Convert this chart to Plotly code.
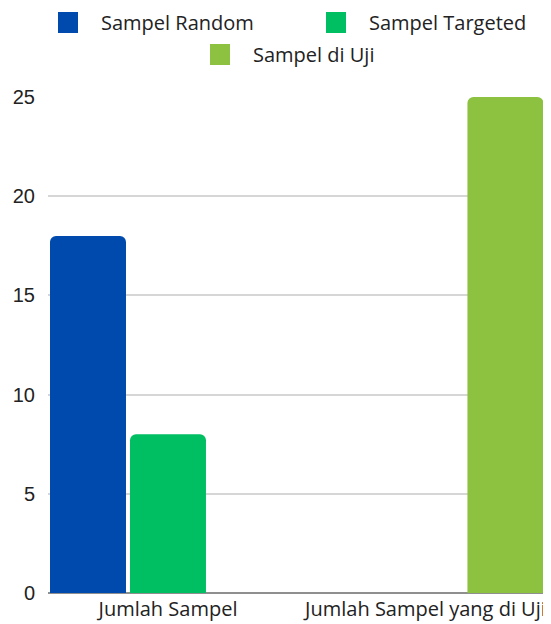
import plotly.graph_objects as go

categories = ["Jumlah Sampel", "Jumlah Sampel yang di Uji"]
series_names = ["Sampel Random", "Sampel Targeted", "Sampel di Uji"]
random_vals = [18, 0]
targeted_vals = [8, 0]
uji_vals = [0, 25]
colors = ["#004AAD", "#00BF63", "#8CC23F"]
y_ticks = [0, 5, 10, 15, 20, 25]

OFF = 8  # page body margin in the browser
W, H = 551 - OFF, 624 - OFF
ML, MR, MT, MB = 48 - OFF, 3, 97 - OFF, 31
PW, PH = W - ML - MR, H - MT - MB


def px_x(p):
    return (p - OFF - ML) / PW


def px_y(p):
    return (H - MB - (p - OFF)) / PH


fig = go.Figure()
for name, vals, c in zip(series_names, [random_vals, targeted_vals, uji_vals], colors):
    fig.add_trace(go.Bar(x=categories, y=vals, name=name,
                         marker=dict(color=c, line=dict(width=0))))

# custom legend (square swatches + labels) placed above the plot
legend_items = [  # (square left px, square top px, text left px) in window pixels
    (58, 12, 99),
    (326, 12, 367),
    (210, 44, 251),
]
shapes = []
annotations = []
for (sx, sy, tx), name, c in zip(legend_items, series_names, colors):
    shapes.append(dict(type="rect", xref="paper", yref="paper",
                       x0=px_x(sx), x1=px_x(sx + 20), y0=px_y(sy + 21), y1=px_y(sy),
                       fillcolor=c, line=dict(width=0), layer="above"))
    annotations.append(dict(text=name, xref="paper", yref="paper", x=px_x(tx),
                            y=px_y(sy + 10), xanchor="left", yanchor="middle",
                            showarrow=False, font=dict(family="Open Sans", size=20,
                                                       color="#222222")))

fig.update_layout(
    width=W, height=H,
    margin=dict(l=ML, r=MR, t=MT, b=MB, autoexpand=False),
    paper_bgcolor="white", plot_bgcolor="white",
    barmode="group", bargap=0.068, bargroupgap=0.05,
    barcornerradius=6,
    showlegend=False,
    font=dict(family="Open Sans", size=20, color="#222222"),
    shapes=shapes, annotations=annotations,
    xaxis=dict(range=[-0.466, 1.476], showgrid=False, showline=False, automargin=False,
               tickfont=dict(family="Open Sans", size=20, color="#222222"),
               ticks="", zeroline=False, ticklabelstandoff=2),
    yaxis=dict(range=[0, 25], tickvals=y_ticks, showgrid=True, gridcolor="#D6D6D6",
               gridwidth=1.5, zeroline=True, zerolinecolor="#8F8F8F", zerolinewidth=2,
               automargin=False,
               tickfont=dict(family="Liberation Sans", size=20, color="#222222"),
               ticklabelstandoff=12),
)
fig.write_html("out.html")
